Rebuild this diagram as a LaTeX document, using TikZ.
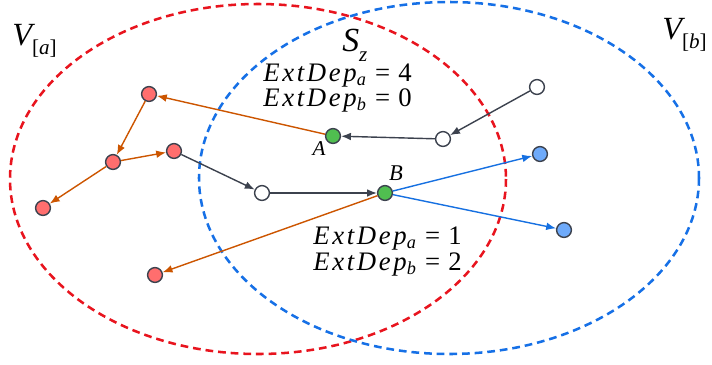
\documentclass[tikz,border=0pt]{standalone}
\usepackage{fontspec}
\setmainfont{Liberation Serif}
\usepackage{xcolor}
\usepackage{tikz}
\usetikzlibrary{arrows.meta, positioning}
\definecolor{seta}{RGB}{232, 20, 30}
\definecolor{setb}{RGB}{22, 112, 230}
\definecolor{deporange}{RGB}{204, 85, 0}
\definecolor{depblue}{RGB}{22, 112, 225}
\definecolor{depgray}{RGB}{60, 66, 78}
\definecolor{nodered}{RGB}{255, 110, 110}
\definecolor{nodegreen}{RGB}{80, 190, 80}
\definecolor{nodeblue}{RGB}{110, 170, 250}
% ExtDep_<set> = <value>
\newcommand{\extdep}[2]{{\itshape\addfontfeatures{LetterSpace=10}ExtDep}%
    \raisebox{-0.18em}{\fontsize{13}{14}\selectfont\itshape #1}\hspace{0.35em}=\hspace{0.3em}#2}
\newcommand{\setname}[2]{{\itshape #1}\raisebox{-0.3em}{\fontsize{15}{16}\selectfont #2}}

\begin{document}
\begin{tikzpicture}[x=0.025cm, y=-0.025cm,
        vtx/.style={circle, draw=depgray, line width=1pt, minimum size=0.37cm, inner sep=0pt},
        dep/.style={line width=1pt, -{Latex[length=7pt, width=5.5pt]}},
        region/.style={line width=1.8pt, dash pattern=on 5.5pt off 3.5pt},
        label/.style={anchor=base west, inner sep=0pt},
        count/.style={label, text height=0.62em, text depth=0.12em, font=\fontsize{19}{21}\selectfont}]
        \useasboundingbox (0,0) rectangle (712,364);
        % the two module regions
        \draw[region, seta] (258,179) ellipse [x radius=248, y radius=175];
        \draw[region, setb] (449,178) ellipse [x radius=250, y radius=176];
        \node[label, font=\fontsize{23}{25}\selectfont] (va) at (12,45) {\setname{V}{[\textit{a}]}};
        \node[label, font=\fontsize{23}{25}\selectfont] (vb) at (662,39) {\setname{V}{[\textit{b}]}};
        \node[label, text depth=0.1em, font=\fontsize{24}{26}\selectfont] (sz) at (342,51) {\setname{S}{\textit{z}}};
        \node[count] (sa) at (263,81) {\extdep{a}{4}};
        \node[count] (sb) at (263,106) {\extdep{b}{0}};
        \node[count] (ba) at (313,244) {\extdep{a}{1}};
        \node[count] (bb) at (313,270) {\extdep{b}{2}};
        % vertices
        \node[vtx, fill=nodered] (r1) at (149,94) {};
        \node[vtx, fill=nodered] (r2) at (113,162) {};
        \node[vtx, fill=nodered] (r3) at (174,151) {};
        \node[vtx, fill=nodered] (r4) at (43,208) {};
        \node[vtx, fill=nodered] (r5) at (155,275) {};
        \node[vtx, fill=nodegreen] (a) at (333,136) {};
        \node[vtx, fill=nodegreen] (b) at (385,193) {};
        \node[vtx, fill=white] (w1) at (262,193) {};
        \node[vtx, fill=white] (w2) at (537,87) {};
        \node[vtx, fill=white] (w3) at (443,139) {};
        \node[vtx, fill=nodeblue] (b1) at (540,154) {};
        \node[vtx, fill=nodeblue] (b2) at (564,230) {};
        \node[font=\fontsize{15}{17}\selectfont\itshape] (la) at (319,149) {A};
        \node[font=\fontsize{16}{18}\selectfont\itshape] (lb) at (396,173) {B};
        % dependencies
        \draw[dep, deporange] (a) -- (r1);
        \draw[dep, deporange] (r1) -- (r2);
        \draw[dep, deporange] (r2) -- (r3);
        \draw[dep, deporange] (r2) -- (r4);
        \draw[dep, deporange] (b) -- (r5);
        \draw[dep, depgray] (r3) -- (w1);
        \draw[dep, depgray] (w1) -- (b);
        \draw[dep, depgray] (w2) -- (w3);
        \draw[dep, depgray] (w3) -- (a);
        \draw[dep, depblue] (b) -- (b1);
        \draw[dep, depblue] (b) -- (b2);
    \end{tikzpicture}
\end{document}
